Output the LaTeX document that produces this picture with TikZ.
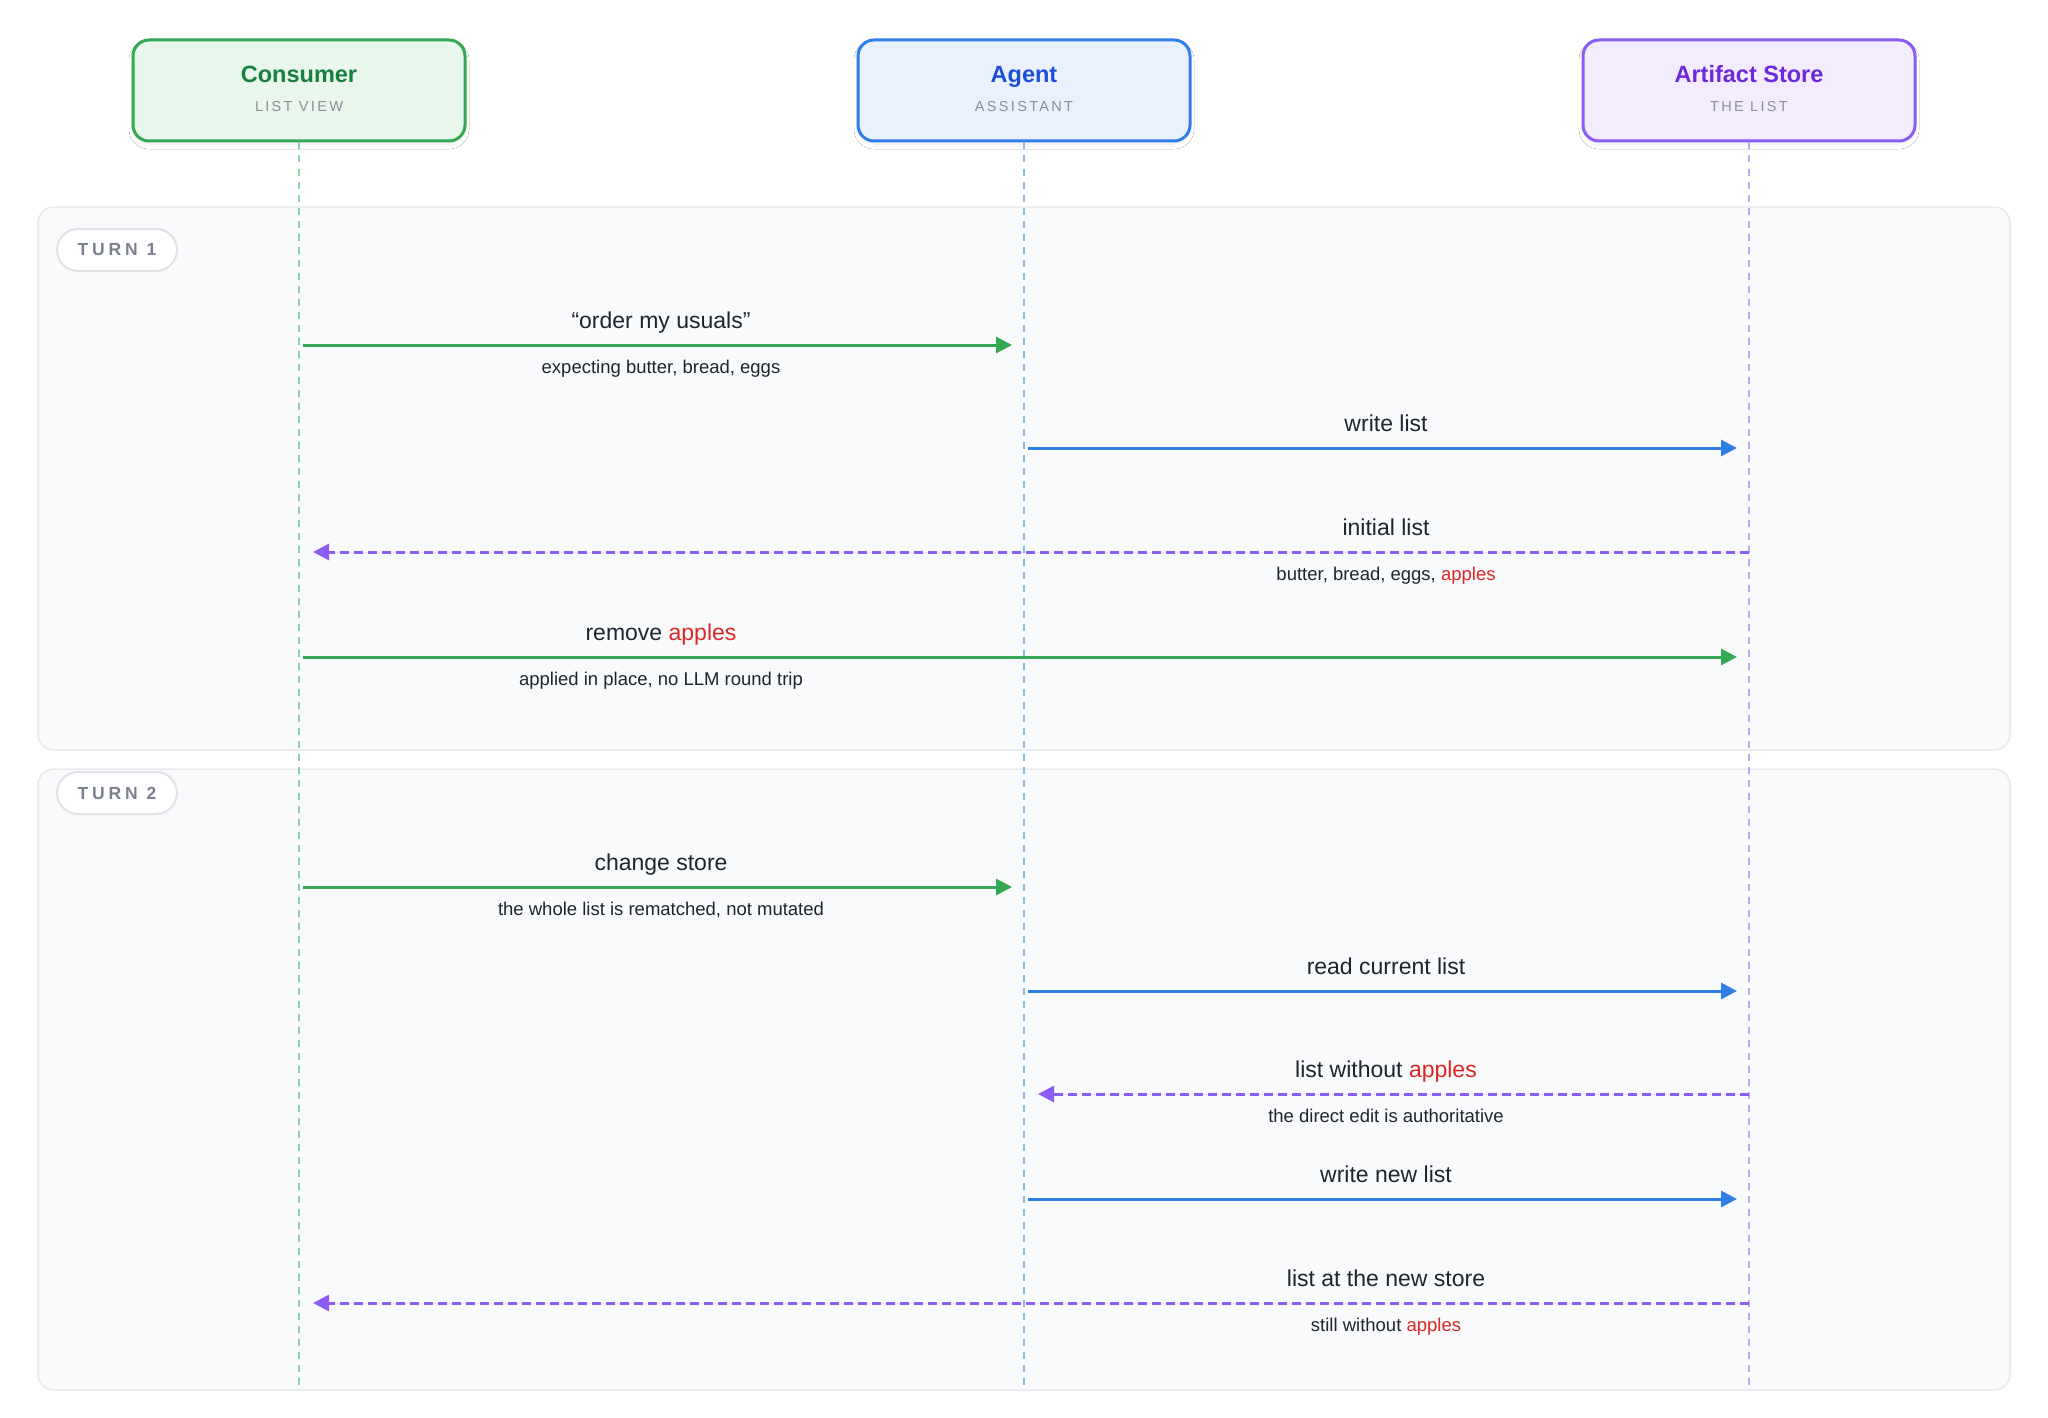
\documentclass[tikz,border=0pt]{standalone}
\usepackage{fontspec}
\setmainfont{Liberation Sans}
\newfontfamily\trackedfont[LetterSpace=16]{Liberation Sans}
\newfontfamily\trackedbold[LetterSpace=22]{Liberation Sans}
\usetikzlibrary{arrows.meta,shadows.blur}
\definecolor{txt}{HTML}{1F2430}
\definecolor{redA}{HTML}{DC2626}
\definecolor{grn}{HTML}{34A853}
\definecolor{grnL}{HTML}{8FD3A4}
\definecolor{grnF}{HTML}{E8F6EC}
\definecolor{grnT}{HTML}{16803C}
\definecolor{blu}{HTML}{2F7FE6}
\definecolor{bluL}{HTML}{8AB8F5}
\definecolor{bluF}{HTML}{EAF1FC}
\definecolor{bluT}{HTML}{1D4ED8}
\definecolor{pur}{HTML}{8B5CF6}
\definecolor{purL}{HTML}{C0A6F8}
\definecolor{purF}{HTML}{F3ECFE}
\definecolor{purT}{HTML}{6D28D9}
\definecolor{subg}{HTML}{8A909A}
\definecolor{panelF}{HTML}{F9FAFB}
\definecolor{panelD}{HTML}{E8EAEE}
\definecolor{pillD}{HTML}{DFE2E7}
\definecolor{pillT}{HTML}{7A8090}
\tikzset{
  actor/.style={draw, line width=3pt, rounded corners=16pt, minimum width=332pt, minimum height=101pt,
    blur shadow={shadow blur steps=5, shadow xshift=0pt, shadow yshift=-4pt, shadow opacity=6, shadow blur radius=4pt}},
  atitle/.style={font=\fontsize{23.5}{27}\selectfont\bfseries, anchor=base},
  asub/.style={font=\trackedfont\fontsize{14.5}{17}\selectfont, text=subg, anchor=base},
  lifeline/.style={line width=2pt, dash pattern=on 7pt off 6pt},
  panel/.style={fill=panelF, draw=panelD, line width=1.5pt, rounded corners=16pt},
  pill/.style={fill=white, draw=pillD, line width=2pt, rounded corners=21pt, minimum width=120pt, minimum height=42pt,
    font=\trackedbold\fontsize{17.5}{20}\selectfont\bfseries, text=pillT},
  msg/.style={line width=3pt, -{Triangle[length=16pt,width=16pt]}},
  call/.style={msg, shorten <=4pt, shorten >=12pt},
  reply/.style={msg, dash pattern=on 9pt off 5pt, shorten >=14pt},
  lbl/.style={font=\fontsize{23}{27}\selectfont, text=txt, anchor=base},
  sub/.style={font=\fontsize{18.5}{22}\selectfont, text=txt, anchor=base},
}
\begin{document}
\begin{tikzpicture}[x=1pt, y=-1pt]
\useasboundingbox[fill=white] (0,0) rectangle (2048,1418);
% panels
\path[panel] (38,207) rectangle (2010,750);
\path[panel] (38,769) rectangle (2010,1390);
\node[pill] (t1) at (117,250) {TURN 1};
\node[pill] (t2) at (117,793) {TURN 2};
% actors
\node[actor, draw=grn, fill=grnF] (cons) at (299,90.5) {};
\node[actor, draw=blu, fill=bluF] (agent) at (1024,90.5) {};
\node[actor, draw=pur, fill=purF] (store) at (1749,90.5) {};
\node[atitle, text=grnT] (consT) at (299,83) {Consumer};
\node[asub] (consS) at (299,112) {LIST VIEW};
\node[atitle, text=bluT] (agentT) at (1024,83) {Agent};
\node[asub] (agentS) at (1024,112) {ASSISTANT};
\node[atitle, text=purT] (storeT) at (1749,83) {Artifact Store};
\node[asub] (storeS) at (1749,112) {THE LIST};
% lifeline ends
\coordinate (bot) at (0,1390);
\draw[lifeline, draw=grnL] (cons.south) -- (cons |- bot);
\draw[lifeline, draw=bluL] (agent.south) -- (agent |- bot);
\draw[lifeline, draw=purL] (store.south) -- (store |- bot);
% message rows
\coordinate (r1) at (0,345);
\coordinate (r2) at (0,448);
\coordinate (r3) at (0,552);
\coordinate (r4) at (0,657);
\coordinate (r5) at (0,887);
\coordinate (r6) at (0,991);
\coordinate (r7) at (0,1094);
\coordinate (r8) at (0,1199);
\coordinate (r9) at (0,1303);
% messages
\draw[call, draw=grn, fill=grn] (cons |- r1) -- (agent |- r1);
\draw[call, draw=blu, fill=blu] (agent |- r2) -- (store |- r2);
\draw[reply, draw=pur, fill=pur] (store |- r3) -- (cons |- r3);
\draw[call, draw=grn, fill=grn] (cons |- r4) -- (store |- r4);
\draw[call, draw=grn, fill=grn] (cons |- r5) -- (agent |- r5);
\draw[call, draw=blu, fill=blu] (agent |- r6) -- (store |- r6);
\draw[reply, draw=pur, fill=pur] (store |- r7) -- (agent |- r7);
\draw[call, draw=blu, fill=blu] (agent |- r8) -- (store |- r8);
\draw[reply, draw=pur, fill=pur] (store |- r9) -- (cons |- r9);
% labels
\node[lbl] (l1) at (661,328) {“order my usuals”};
\node[sub] (s1) at (661,373) {expecting butter, bread, eggs};
\node[lbl] (l2) at (1386,431) {write list};
\node[lbl] (l3) at (1386,535) {initial list};
\node[sub] (s3) at (1386,580) {butter, bread, eggs, \textcolor{redA}{apples}};
\node[lbl] (l4) at (661,640) {remove \textcolor{redA}{apples}};
\node[sub] (s4) at (661,685) {applied in place, no LLM round trip};
\node[lbl] (l5) at (661,870) {change store};
\node[sub] (s5) at (661,915) {the whole list is rematched, not mutated};
\node[lbl] (l6) at (1386,974) {read current list};
\node[lbl] (l7) at (1386,1077) {list without \textcolor{redA}{apples}};
\node[sub] (s7) at (1386,1122) {the direct edit is authoritative};
\node[lbl] (l8) at (1386,1182) {write new list};
\node[lbl] (l9) at (1386,1286) {list at the new store};
\node[sub] (s9) at (1386,1331) {still without \textcolor{redA}{apples}};
\end{tikzpicture}
\end{document}
